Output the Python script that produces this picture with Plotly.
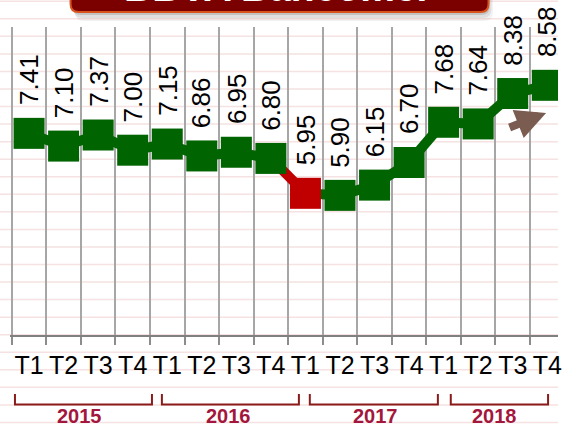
import plotly.graph_objects as go

# ---------------- data ----------------
quarters = ["T1", "T2", "T3", "T4", "T1", "T2", "T3", "T4",
            "T1", "T2", "T3", "T4", "T1", "T2", "T3", "T4"]
years = ["2015", "2016", "2017", "2018"]
values = [7.41, 7.10, 7.37, 7.00, 7.15, 6.86, 6.95, 6.80,
          5.95, 5.90, 6.15, 6.70, 7.68, 7.64, 8.38, 8.58]
title_text = "BBVA Bancomer"

# ---------------- styles ----------------
W, H = 562, 429
L, R, T, B = 10, 0, 27, 94
PW, PH = W - L - R, H - T - B
GREEN = "#006400"
RED = "#c00000"
HIGHLIGHT = 8  # index of the highlighted (red) point
FONT = "Liberation Sans, Arial, sans-serif"
YEAR_RED = "#a3173c"
BRACKET_RED = "#8b1a1a"


def px(x):
    return (x - L) / PW


def py(y):
    return (H - B - y) / PH


def color_of(i):
    return RED if i == HIGHLIGHT else GREEN


n = len(values)
xs = list(range(n))

fig = go.Figure()

# connecting line segments (segment coloured like its end point)
for i in range(1, n):
    fig.add_trace(go.Scatter(
        x=[xs[i - 1], xs[i]], y=[values[i - 1], values[i]], mode="lines",
        line=dict(color=color_of(i), width=10), hoverinfo="skip", showlegend=False))

# square markers
fig.add_trace(go.Scatter(
    x=xs, y=values, mode="markers",
    marker=dict(symbol="square", size=31, color=[color_of(i) for i in xs],
                line=dict(width=0)),
    showlegend=False, hoverinfo="x+y"))

annotations = []
# rotated value labels
for i, v in zip(xs, values):
    annotations.append(dict(
        x=i, y=v, xref="x", yref="y", text=f"{v:.2f}", showarrow=False,
        textangle=-90, xanchor="center", yanchor="bottom", yshift=26,
        font=dict(family=FONT, size=26, color="#000000")))

# year labels under brackets
year_centers = [80, 230, 378, 498]
for yr, cx in zip(years, year_centers):
    annotations.append(dict(
        x=px(cx), y=py(429), xref="paper", yref="paper", text=f"<b>{yr}</b>",
        showarrow=False, xanchor="center", yanchor="bottom",
        font=dict(family=FONT, size=20, color=YEAR_RED)))

# title (cut off by the top edge)
annotations.append(dict(
    x=px(280), y=py(11.5), xref="paper", yref="paper", text=f"<b>{title_text}</b>",
    showarrow=False, xanchor="center", yanchor="bottom",
    font=dict(family=FONT, size=39, color="#ffffff")))

# arrow
annotations.append(dict(
    x=px(550), y=py(113), xref="paper", yref="paper", text="",
    showarrow=True, ax=-38, ay=15, arrowhead=2, arrowsize=0.75, arrowwidth=8,
    arrowcolor="#7a5c50"))

shapes = []
# lined-paper background
k = -25
while True:
    yy = 334.7 + 17.55 * k
    k += 1
    if yy < 0:
        continue
    if yy > H:
        break
    shapes.append(dict(type="line", xref="paper", yref="paper",
                       x0=px(0), x1=px(W), y0=py(yy), y1=py(yy),
                       line=dict(color="#f6e2e2", width=1.5), layer="below"))

# year brackets
brackets = [(15, 153), (163, 301), (312, 441), (454, 552)]
for x0, x1 in brackets:
    path = (f"M{px(x0)},{py(394)} L{px(x0)},{py(404.5)} "
            f"L{px(x1)},{py(404.5)} L{px(x1)},{py(394)}")
    shapes.append(dict(type="path", xref="paper", yref="paper", path=path,
                       line=dict(color=BRACKET_RED, width=2)))


def rounded_box(x0, y0, x1, y1, r):
    return (f"M{px(x0)},{py(y0)} L{px(x0)},{py(y1 - r)} "
            f"Q{px(x0)},{py(y1)} {px(x0 + r)},{py(y1)} "
            f"L{px(x1 - r)},{py(y1)} Q{px(x1)},{py(y1)} {px(x1)},{py(y1 - r)} "
            f"L{px(x1)},{py(y0)} Z")


# title box shadow and box
for off, alpha in [(9, 0.05), (6, 0.08), (3, 0.12)]:
    shapes.append(dict(type="path", xref="paper", yref="paper",
                       path=rounded_box(71 + off / 2, -30, 492 + off / 2, 12 + off, 9),
                       fillcolor=f"rgba(0,0,0,{alpha})", line=dict(width=0)))
shapes.append(dict(type="path", xref="paper", yref="paper",
                   path=rounded_box(71, -30, 492, 12, 8),
                   fillcolor="#7b0000", line=dict(color="#d9531e", width=2)))

fig.update_layout(
    width=W, height=H,
    margin=dict(l=L, r=R, t=T, b=B, pad=0),
    paper_bgcolor="#ffffff", plot_bgcolor="rgba(0,0,0,0)",
    showlegend=False,
    xaxis=dict(
        range=[-0.5 - 1.8 / 34.8, -0.5 - 1.8 / 34.8 + PW / 34.8],
        tickmode="array", tickvals=xs, ticktext=quarters,
        ticks="", showgrid=False, zeroline=False,
        showline=True, linecolor="#808080", linewidth=2,
        tickfont=dict(family=FONT, size=25, color="#000000"),
        ticklabelstandoff=7, ticklabeloverflow="allow",
        minor=dict(tickmode="array", tickvals=[i - 0.5 for i in range(n + 1)],
                   showgrid=True, gridcolor="#a6a6a6", gridwidth=2,
                   ticks="outside", ticklen=8, tickcolor="#8c8c8c", tickwidth=2),
        fixedrange=True),
    yaxis=dict(range=[2.5, 10], showgrid=False, zeroline=False,
               showticklabels=False, ticks="", showline=False, fixedrange=True),
    annotations=annotations, shapes=shapes,
)

fig.write_html("out.html", config={"displayModeBar": False},
               post_script="document.body.style.margin='0';")
